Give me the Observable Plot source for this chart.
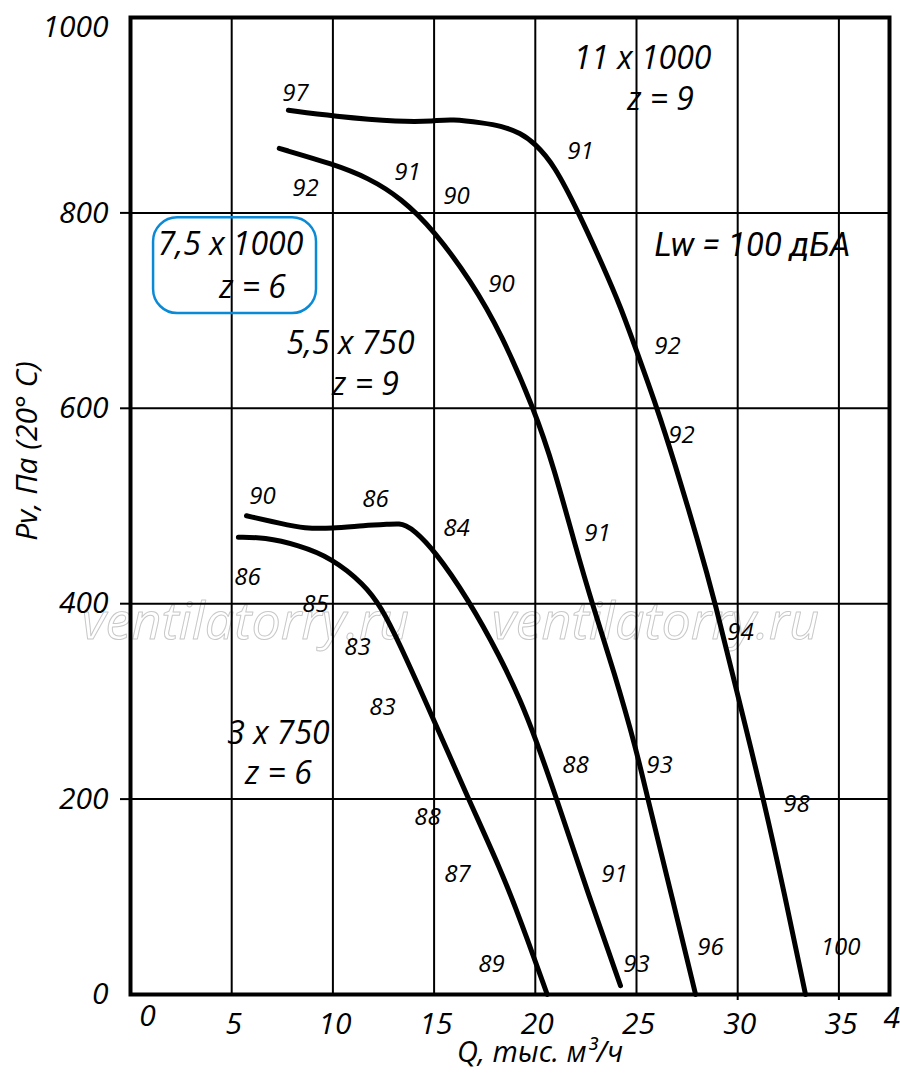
<!DOCTYPE html>
<html>
<head>
<meta charset="utf-8">
<script src="https://cdn.jsdelivr.net/npm/d3@7"></script>
<script src="https://cdn.jsdelivr.net/npm/@observablehq/plot@0.6"></script>
<style>
  html, body { margin: 0; padding: 0; background: #fff; }
  #chart svg { display: block; }
</style>
</head>
<body>
<div id="chart"></div>
<script>
// ---- Data (Q in thousand m3/h, Pv in Pa) ----
// 3 x 750, z = 6
const q3x750 = [5.33, 6.6, 8.3, 9.92, 11.55, 12.4, 13.23, 14.86, 16.68, 18.31, 19.27, 20.59];
const p3x750 = [468, 468, 460, 447, 420, 396, 362, 287, 201, 127, 76, 0];
// 5,5 x 750, z = 9
const q55x750 = [5.73, 7.45, 8.6, 9.92, 11.55, 12.9, 13.28, 13.6, 14.02, 15.0, 16.68, 18.3, 19.27, 20.01, 21.08, 22.56, 24.21];
const p55x750 = [490, 482, 477, 477, 480, 481.5, 482, 480, 475, 455, 405, 344, 301, 262, 199, 106, 9];
// 7,5 x 1000, z = 6
const q75x1000 = [7.35, 10.0, 11.75, 13.38, 15.0, 16.83, 18.31, 19.98, 20.91, 21.99, 22.81, 23.9, 25.0, 25.5, 26.68, 27.92];
const p75x1000 = [866, 850, 836, 815, 782, 730, 677, 597, 540, 458, 400, 330, 250, 205, 106, 0];
// 11 x 1000, z = 9
const q11x1000 = [7.8, 10.0, 13.38, 15.0, 15.84, 17.47, 18.31, 19.27, 19.98, 20.91, 22.15, 23.38, 24.21, 25.0, 26.02, 26.84, 28.03, 28.9, 29.98, 31.29, 32.28, 33.35];
const p11x1000 = [905, 899, 893, 894, 896, 892, 889, 882, 871, 850, 800, 744, 704, 659, 600, 547, 465, 400, 308, 199, 106, 0];

// Noise level annotations (dB)
const noiseText = ["97","92","91","90","91","90","92","92","91","94","93","98","91","96","100","93","89","87","88","88","83","83","85","86","90","86","84"];
const noiseQ    = [8.15, 8.65, 13.69, 16.11, 22.23, 18.33, 26.53, 27.22, 23.07, 30.14, 26.14, 32.9, 23.91, 28.66, 35.08, 25.0, 17.84, 16.16, 14.67, 21.99, 12.45, 11.22, 9.14, 5.78, 6.52, 12.1, 16.11];
const noiseP    = [922, 825, 842, 817, 863, 727, 663, 572, 472, 371, 235, 195, 123, 48, 48, 31, 31, 123, 181, 235, 294, 355, 399, 427, 510, 507, 477];

// Curve titles
const titleText = ["11 x 1000", "z = 9", "7,5 x 1000", "z = 6", "5,5 x 750", "z = 9", "3 x 750", "z = 6"];
const titleQ    = [25.3, 26.19, 4.94, 6.03, 10.87, 11.61, 7.31, 7.31];
const titleP    = [958, 916, 767, 723, 666, 624, 267, 226];
// Sound power note
const noteText = ["Lw = 100 дБА"];
const noteQ = [30.73];
const noteP = [767];

// Highlight box around "7,5 x 1000 z = 6"
const boxQ = [1.14, 9.19];
const boxP = [697, 795];

// Watermark
const watermarkText = ["ventilatorry.ru", "ventilatorry.ru"];
const watermarkQ = [5.68, 25.94];
const watermarkP = [381, 381];

// Axes
const xTicks = [0, 5, 10, 15, 20, 25, 30, 35, 40];
const xGrid = [5, 10, 15, 20, 25, 30, 35];
const xMinorTicks = [30, 35];
const yTicks = [0, 200, 400, 600, 800, 1000];
const yGrid = [200, 400, 600, 800];

// ---- Build ----
const pts = (q, p) => q.map((v, i) => ({q: v, p: p[i]}));
const series = [pts(q3x750, p3x750), pts(q55x750, p55x750), pts(q75x1000, p75x1000), pts(q11x1000, p11x1000)];
const noise = noiseText.map((t, i) => ({t, q: noiseQ[i], p: noiseP[i]}));
const titles = titleText.map((t, i) => ({t, q: titleQ[i], p: titleP[i]}));
const notes = noteText.map((t, i) => ({t, q: noteQ[i], p: noteP[i]}));
const marks = watermarkText.map((t, i) => ({t, q: watermarkQ[i], p: watermarkP[i]}));

const FONT = "Open Sans";
const XMAX = 37.5;
const tickTxt = {fontSize: 30, fontStyle: "italic", fontFamily: FONT, fill: "#000"};

const chart = Plot.plot({
  width: 900,
  height: 1083,
  marginLeft: 130,
  marginRight: 11,
  marginTop: 17,
  marginBottom: 89,
  x: {domain: [0, XMAX]},
  y: {domain: [0, 1000]},
  style: {fontFamily: FONT, background: "#fff"},
  marks: [
    Plot.text(marks, {x: "q", y: "p", text: "t", fontFamily: FONT, fontStyle: "italic", fontSize: 52,
      fill: "none", stroke: "#c8c8c8", strokeWidth: 1}),
    Plot.ruleX(xGrid, {stroke: "#000", strokeWidth: 2}),
    Plot.ruleY(yGrid, {stroke: "#000", strokeWidth: 2}),
    Plot.axisY({ticks: yGrid, tickSize: 10, tickFormat: () => "", strokeWidth: 2, label: null}),
    Plot.axisY({ticks: yTicks.filter(d => d < 1000), tickSize: 0, tickPadding: 22, tickFormat: d => String(d), label: null, ...tickTxt}),
    Plot.text(yTicks.filter(d => d === 1000), {y: d => d, text: d => String(d), frameAnchor: "left", textAnchor: "end", dx: -22, dy: 10, ...tickTxt}),
    Plot.axisX({ticks: xMinorTicks, tickSize: 6, tickFormat: () => "", strokeWidth: 2, label: null}),
    Plot.axisX({ticks: xTicks.filter(d => d > 0 && d <= XMAX), tickSize: 0, tickPadding: 18, tickFormat: d => String(d), label: null, dx: 2, ...tickTxt}),
    Plot.text(xTicks.filter(d => d === 0), {x: d => d, text: d => String(d), frameAnchor: "bottom", dx: 17, dy: 31, ...tickTxt}),
    Plot.text(xTicks.filter(d => d > XMAX), {text: d => String(d), frameAnchor: "bottom-right", textAnchor: "start", dx: -6, dy: 33, ...tickTxt}),
    Plot.frame({stroke: "#000", strokeWidth: 4}),
    Plot.rect([0], {x1: () => boxQ[0], x2: () => boxQ[1], y1: () => boxP[0], y2: () => boxP[1],
      rx: 24, fill: "none", stroke: "#0a8ad6", strokeWidth: 2.5}),
    ...series.map(s => Plot.line(s, {x: "q", y: "p", curve: "basis", stroke: "#000", strokeWidth: 5, strokeLinecap: "round", strokeLinejoin: "round"})),
    Plot.text(noise, {x: "q", y: "p", text: "t", fontSize: 24, fontStyle: "italic", fontFamily: FONT, fill: "#000"}),
    Plot.text(titles, {x: "q", y: "p", text: "t", fontSize: 32, fontStyle: "italic", fontFamily: FONT, fill: "#000"}),
    Plot.text(notes, {x: "q", y: "p", text: "t", fontSize: 33, fontStyle: "italic", fontFamily: "Roboto", fill: "#000"}),
    Plot.text(["Pv, Па (20° C)"], {frameAnchor: "left", textAnchor: "middle", dx: -103, dy: -55, rotate: -90, fontSize: 30, fontStyle: "italic", fontFamily: FONT, fill: "#000"}),
    Plot.text(["Q, тыс. м³/ч"], {frameAnchor: "bottom", dx: 30, dy: 67, fontSize: 29, fontStyle: "italic", fontFamily: FONT, fill: "#000"})
  ]
});
document.getElementById("chart").appendChild(chart);
</script>
</body>
</html>
